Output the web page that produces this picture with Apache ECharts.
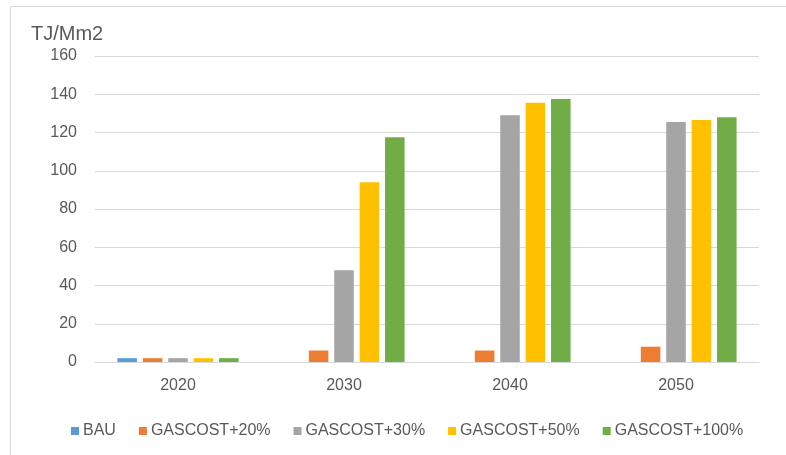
<!DOCTYPE html>
<html>
<head>
<meta charset="utf-8">
<script src="https://cdn.jsdelivr.net/npm/echarts@6/dist/echarts.min.js"></script>
<style>
  html, body { margin: 0; padding: 0; background: #ffffff; }
  #chart { width: 786px; height: 455px; }
</style>
</head>
<body>
<div id="chart"></div>
<script>
// Years on the category axis
const years = ['2020', '2030', '2040', '2050'];

// Scenario series (TJ/Mm2)
const bau        = [2, 0, 0, 0];
const gas20      = [2, 6, 6, 8];
const gas30      = [2, 48, 129, 125.5];
const gas50      = [2, 94, 135.5, 126.5];
const gas100     = [2, 117.5, 137.5, 128];

const seriesNames = ['BAU', 'GASCOST+20%', 'GASCOST+30%', 'GASCOST+50%', 'GASCOST+100%'];
const seriesData  = [bau, gas20, gas30, gas50, gas100];
const colors      = ['#5B9BD5', '#ED7D31', '#A5A5A5', '#FFC000', '#70AD47'];

// Value axis ticks
const yMin = 0, yMax = 160, yStep = 20;

const FONT = '"Liberation Sans", Arial, sans-serif';

const chart = echarts.init(document.getElementById('chart'), null, { renderer: 'canvas' });

chart.setOption({
  animation: false,
  backgroundColor: '#ffffff',
  color: colors,
  textStyle: { fontFamily: FONT },
  title: {
    text: 'TJ/Mm2',
    left: 26,
    top: 19,
    textStyle: { fontFamily: FONT, fontSize: 20, fontWeight: 'normal', color: '#595959' }
  },
  graphic: [{
    type: 'rect',
    shape: { x: 10.5, y: 6.5, width: 800, height: 470 },
    style: { fill: 'none', stroke: '#d9d9d9', lineWidth: 1 },
    silent: true,
    z: -1
  }],
  legend: {
    data: seriesNames,
    left: 66,
    top: 418,
    itemWidth: 8,
    itemHeight: 8,
    itemGap: 23,
    icon: 'rect',
    textStyle: { fontFamily: FONT, fontSize: 16, color: '#595959', padding: [0, 0, 0, -1] }
  },
  grid: { left: 95, right: 27, top: 56, bottom: 93, containLabel: false },
  xAxis: {
    type: 'category',
    data: years,
    axisLine: { lineStyle: { color: '#d9d9d9' } },
    axisTick: { show: false },
    axisLabel: { fontFamily: FONT, fontSize: 16, color: '#595959', margin: 16 }
  },
  yAxis: {
    type: 'value',
    min: yMin,
    max: yMax,
    interval: yStep,
    axisLine: { show: false },
    axisTick: { show: false },
    splitLine: { lineStyle: { color: '#d9d9d9' } },
    axisLabel: { fontFamily: FONT, fontSize: 16, color: '#595959', margin: 18 }
  },
  series: seriesNames.map((name, i) => ({
    name: name,
    type: 'bar',
    data: seriesData[i],
    barGap: '30%',
    barCategoryGap: '27%',
    itemStyle: { color: colors[i] }
  }))
});
</script>
</body>
</html>
